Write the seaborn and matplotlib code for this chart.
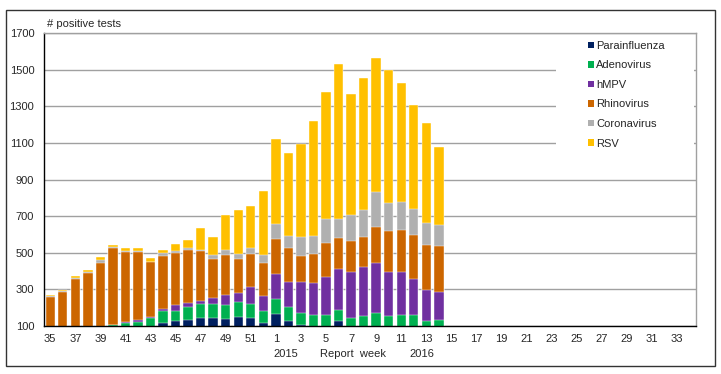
import numpy as np
import pandas as pd
import matplotlib
matplotlib.use("Agg")
import matplotlib.pyplot as plt
from matplotlib.patches import Patch, Rectangle
import seaborn as sns

# report weeks: 35..52 (2015) then 1..34 (2016)
weeks = [str(w) for w in list(range(35, 53)) + list(range(1, 35))]
bar_weeks = weeks[:32]  # weeks 35 .. 14 have data

# positive tests per virus (stacked from 0, axis cut at 100)
parainfluenza = [60, 60, 65, 65, 70, 75, 80, 85, 95, 115, 127, 136, 145, 147, 140, 149, 147, 118,
                 164, 129, 105, 95, 95, 129, 95, 95, 95, 95, 95, 95, 95, 95]
adenovirus = [20, 20, 20, 23, 22, 30, 35, 39, 47, 67, 57, 66, 75, 73, 78, 80, 73, 62,
              85, 73, 68, 65, 65, 58, 47, 60, 74, 60, 63, 63, 34, 41]
hmpv = [8, 8, 7, 7, 5, 3, 9, 12, 10, 11, 31, 22, 18, 33, 53, 53, 95, 85,
        138, 140, 169, 173, 209, 226, 254, 269, 273, 241, 238, 197, 169, 151]
rhinovirus = [172, 197, 266, 296, 350, 419, 380, 366, 297, 289, 285, 291, 273, 214, 218, 183, 181, 177,
              189, 185, 140, 163, 187, 169, 169, 160, 200, 224, 229, 243, 247, 251]
coronavirus = [5, 4, 6, 6, 14, 6, 8, 8, 3, 15, 11, 9, 7, 20, 29, 28, 28, 45,
               80, 67, 102, 95, 131, 105, 139, 149, 192, 154, 151, 142, 120, 116]
rsv = [6, 7, 9, 8, 14, 7, 12, 17, 21, 18, 36, 45, 115, 98, 186, 240, 230, 353,
       464, 450, 512, 629, 689, 842, 665, 723, 731, 726, 649, 569, 542, 422]

names = ["Parainfluenza", "Adenovirus", "hMPV", "Rhinovirus", "Coronavirus", "RSV"]
series = [parainfluenza, adenovirus, hmpv, rhinovirus, coronavirus, rsv]
colors = ["#002060", "#00B050", "#7030A0", "#CC6600", "#B0B0B0", "#FFC000"]

df = pd.DataFrame({"week": bar_weeks})
for n, s in zip(names, series):
    df[n] = s

sns.set_style("white")
plt.rcParams["font.family"] = ["Liberation Sans", "DejaVu Sans"]
plt.rcParams["font.size"] = 8

fig = plt.figure(figsize=(7.21, 3.74), dpi=100)
ax = fig.add_axes([0.061, 0.128, 0.904, 0.784])

# stacked bars: draw running totals from the top series down
cum = df[names].cumsum(axis=1)
for n, c in reversed(list(zip(names, colors))):
    sns.barplot(x=df["week"], y=cum[n], order=weeks, color=c, width=0.75,
                saturation=1, ax=ax, edgecolor="white", linewidth=0.3)

ax.set_ylim(100, 1700)
ax.set_xlim(-0.5, len(weeks) - 0.5)
ax.set_yticks(range(100, 1701, 200))
ax.set_xticks(np.arange(-0.5, len(weeks), 1))
ax.set_xticklabels([])
ax.set_xticks(range(0, len(weeks), 2), minor=True)
ax.set_xticklabels(weeks[::2], minor=True)
ax.tick_params(axis="x", which="major", length=4, width=0.8, direction="out", color="black")
ax.tick_params(axis="x", which="minor", length=0, pad=6, labelsize=8)
ax.tick_params(axis="y", length=4, width=0.8, direction="out", color="black", labelsize=8, pad=3)
ax.set_xlabel("")
ax.set_ylabel("")

ax.set_axisbelow(True)
ax.yaxis.grid(True, color="#A0A0A0", linewidth=1)
for side in ["left", "bottom"]:
    ax.spines[side].set_color("black")
    ax.spines[side].set_linewidth(1)
for side in ["top", "right"]:
    ax.spines[side].set_color("#A0A0A0")
    ax.spines[side].set_linewidth(1)

# white legend area hiding the grid lines
ax.add_patch(Rectangle((0.785, 0.59), 0.212, 0.40, transform=ax.transAxes,
                       facecolor="white", edgecolor="none", zorder=3))
handles = [Patch(facecolor=c, edgecolor="none", label=n) for n, c in zip(names, colors)]
leg = ax.legend(handles=handles, loc="upper left", bbox_to_anchor=(0.834, 0.973),
                frameon=False, handlelength=0.55, handleheight=0.55, handletextpad=0.25,
                labelspacing=0.86, fontsize=8, borderaxespad=0, borderpad=0)
leg.set_zorder(4)

fig.text(0.065, 0.936, "# positive tests", ha="left", va="center", fontsize=8)
fig.text(0.397, 0.053, "2015", ha="center", va="center", fontsize=8)
fig.text(0.490, 0.053, "Report  week", ha="center", va="center", fontsize=8)
fig.text(0.585, 0.053, "2016", ha="center", va="center", fontsize=8)

fig.patches.append(Rectangle((0.008, 0.021), 0.984, 0.952, transform=fig.transFigure,
                             fill=False, edgecolor="#333333", linewidth=1))

fig.savefig("out.png", dpi=100)
